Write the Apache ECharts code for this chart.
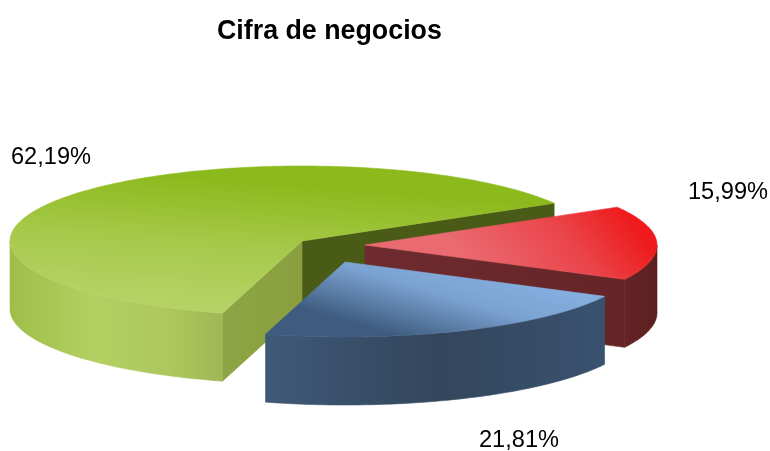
<!DOCTYPE html>
<html>
<head>
<meta charset="utf-8">
<title>Cifra de negocios</title>
<script src="https://cdn.jsdelivr.net/npm/echarts@6/dist/echarts.min.js"></script>
<style>
  html, body { margin: 0; padding: 0; background: #fff; }
  #chart { width: 770px; height: 451px; }
</style>
</head>
<body>
<div id="chart"></div>
<script>
// values, counter-clockwise from the start angle
const sliceNames = ['Verde', 'Azul', 'Rojo'];
const sliceValues = [62.19, 21.81, 15.99];

// ellipse used for the fake 3d projection
const RX = 292;
const RY = 75;
const DEPTH = 68;
const START_ANGLE = 30.3;
const FONT = '"Liberation Sans", Arial, sans-serif';

function grad(x, y, x2, y2, stops, global) {
  return new echarts.graphic.LinearGradient(x, y, x2, y2, stops.map(function (s) {
    return { offset: s[0], color: s[1] };
  }), global);
}

const sliceStyles = {
  Verde: {
    center: [302, 241],
    labelPos: [11, 145],
    // top faces use pixel coordinates, the bbox ones get stretched too much
    top: grad(550, 205, 540, 334, [[0, '#8cba1c'], [0.5, '#a6c94a'], [1, '#b6d266']], true),
    side: grad(0, 0, 1, 0, [[0, '#9fbe48'], [0.4, '#b3cf62'], [0.75, '#adc75c'], [1, '#9fb755']]),
    wallStart: '#4a5a17',
    wallEnd: grad(0, 0, 1, 0, [[0, '#8ca544'], [1, '#8b9f3e']])
  },
  Rojo: {
    center: [365, 245],
    labelPos: [688, 180],
    top: grad(620, 205, 500, 300, [[0, '#ee1a1c'], [0.4, '#ea4449'], [1, '#ea6a72']], true),
    side: grad(0, 0, 1, 0, [[0, '#652426'], [1, '#5c1f20']]),
    wallStart: grad(0, 0, 1, 0, [[0, '#6e2c30'], [1, '#652426']]),
    wallEnd: '#6e2c30'
  },
  Azul: {
    center: [345, 262],
    labelPos: [479, 428],
    top: grad(470, 265, 445, 350, [[0, '#84aede'], [0.4, '#7ba3d2'], [1, '#3f5c80']], true),
    side: grad(0, 0, 1, 0, [[0, '#3f5978'], [0.5, '#33465c'], [1, '#39526f']]),
    wallStart: '#33465c',
    wallEnd: '#33465c'
  }
};

// the order the slices get painted, back to front
const paintOrder = ['Verde', 'Rojo', 'Azul'];

function px(c, deg, dz) {
  const a = deg * Math.PI / 180;
  return [c[0] + RX * Math.cos(a), c[1] - RY * Math.sin(a) + (dz || 0)];
}

function arc(c, from, to, dz) {
  const pts = [];
  const step = to > from ? 1 : -1;
  for (let d = from; step > 0 ? d < to : d > to; d += step) {
    pts.push(px(c, d, dz));
  }
  pts.push(px(c, to, dz));
  return pts;
}

function poly(points, fill) {
  // same colour stroke closes the seams between neighbouring faces
  return { type: 'polygon', shape: { points: points }, style: { fill: fill, stroke: fill, lineWidth: 0.6 } };
}

function wall(c, deg, fill) {
  return poly([c, px(c, deg), px(c, deg, DEPTH), [c[0], c[1] + DEPTH]], fill);
}

// part of the rim that faces the viewer, sin(angle) < 0
function rim(c, from, to, fill) {
  const out = [];
  [[180, 360], [540, 720]].forEach(function (r) {
    const a = Math.max(from, r[0]);
    const b = Math.min(to, r[1]);
    if (a < b) {
      out.push(poly(arc(c, a, b).concat(arc(c, b, a, DEPTH)), fill));
    }
  });
  return out;
}

function sliceAngles() {
  const total = sliceValues.reduce(function (a, b) { return a + b; }, 0);
  const res = {};
  let a = START_ANGLE;
  sliceNames.forEach(function (name, i) {
    const span = sliceValues[i] / total * 360;
    res[name] = { from: a, to: a + span, value: sliceValues[i] };
    a += span;
  });
  return res;
}

const angles = sliceAngles();

function renderSlice(params, api) {
  const name = paintOrder[api.value(0)];
  const st = sliceStyles[name];
  const an = angles[name];
  const c = st.center;
  let children = [];

  // inner walls, only those facing the viewer
  if (Math.cos(an.from * Math.PI / 180) > 0) {
    children.push(wall(c, an.from, st.wallStart));
  }
  if (Math.cos(an.to * Math.PI / 180) < 0) {
    children.push(wall(c, an.to, st.wallEnd));
  }
  children = children.concat(rim(c, an.from, an.to, st.side));
  children.push(poly([c].concat(arc(c, an.from, an.to)), st.top));
  children.push({
    type: 'text',
    style: {
      text: an.value.toFixed(2).replace('.', ',') + '%',
      x: st.labelPos[0],
      y: st.labelPos[1],
      fill: '#000',
      font: '23.6px ' + FONT
    }
  });
  return { type: 'group', children: children };
}

const chart = echarts.init(document.getElementById('chart'), null, { renderer: 'canvas' });
chart.setOption({
  animation: false,
  backgroundColor: '#fff',
  title: {
    text: 'Cifra de negocios',
    left: 212,
    top: 13,
    textStyle: { fontFamily: FONT, fontSize: 26.8, fontWeight: 'bold', color: '#000' }
  },
  series: [{
    type: 'custom',
    coordinateSystem: 'none',
    silent: true,
    data: paintOrder.map(function (n, i) { return [i]; }),
    renderItem: renderSlice
  }]
});
</script>
</body>
</html>
